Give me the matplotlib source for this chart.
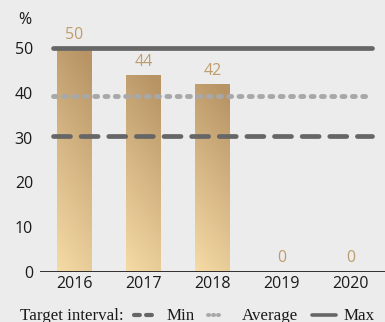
import numpy as np
import matplotlib
matplotlib.use("Agg")
import matplotlib.pyplot as plt
from matplotlib.lines import Line2D
from matplotlib.colors import to_rgb

years = ["2016", "2017", "2018", "2019", "2020"]
values = [50, 44, 42, 0, 0]
target_min = 30.4
target_avg = 39.3
target_max = 50
y_ticks = [0, 10, 20, 30, 40, 50]

BG = "#ececec"
TAN = "#bf9d6c"
DARK = "#666666"
LIGHT = "#a8a8a8"
SANS = ["Open Sans", "DejaVu Sans"]
SERIF = ["Liberation Serif", "DejaVu Serif"]

W, H = 385, 322
fig = plt.figure(figsize=(W / 100, H / 100), dpi=100, facecolor=BG)
ax = fig.add_axes([40 / W, (H - 271.7) / H, 345.5 / W, 245.7 / H], facecolor=BG)

x = np.arange(len(years))
bar_w = 0.5

# diagonal gradient: light at bottom-left, darker tan at top-right
c_top = np.array(to_rgb("#b89465"))
c_bot = np.array(to_rgb("#f5dba6"))
ny, nx = 100, 20
gy = np.linspace(0, 1, ny)[:, None]
gx = np.linspace(0, 1, nx)[None, :]
t = np.clip(0.85 * gy + 0.2 * gx, 0, 1)
grad = c_bot[None, None, :] * (1 - t[..., None]) + c_top[None, None, :] * t[..., None]

for xi, v in zip(x, values):
    if v > 0:
        ax.imshow(grad, origin="lower", aspect="auto", interpolation="bilinear",
                  extent=[xi - bar_w / 2, xi + bar_w / 2, 0, v], zorder=1)
    ax.text(xi, v + 1.2, f"{v}", ha="center", va="bottom", color=TAN,
            fontsize=11.5, family=SANS, zorder=4)

# target interval lines
lx = [-0.305, 4.305]
ax.plot(lx, [target_max] * 2, color=DARK, lw=3.4, solid_capstyle="round", zorder=3)
ax.plot(lx, [target_avg] * 2, color=LIGHT, lw=3.5, dash_capstyle="round",
        dashes=(0.6, 1.52), zorder=3)
ax.plot(lx, [target_min] * 2, color=DARK, lw=3.4, dash_capstyle="round",
        dashes=(3.6, 2.25), zorder=3)

ax.axhline(0, color="#222222", lw=1.3, zorder=5)

ax.set_xlim(-0.5, 4.5)
ax.set_ylim(0, 55)
ax.set_xticks(x)
ax.set_xticklabels(years)
ax.set_yticks(y_ticks)
for s in ax.spines.values():
    s.set_visible(False)
ax.tick_params(axis="both", length=0, labelsize=11.5, colors="#1a1a1a")
ax.tick_params(axis="y", pad=5)
ax.tick_params(axis="x", pad=3)
for lab in ax.get_xticklabels() + ax.get_yticklabels():
    lab.set_family(SANS)

fig.text(25 / W, 1 - 20.5 / H, "%", ha="center", va="center", fontsize=11.5,
         family=SANS, color="#1a1a1a")

# legend row along the bottom edge
ly = 1 - 315 / H
tb = 1 - 319.5 / H
fig.text(20 / W, tb, "Target interval:", ha="left", va="baseline", fontsize=12.2,
         family=SERIF, color="#1a1a1a")
items = [
    (134, 152, dict(color=DARK, lw=3.0, dashes=(1.4, 1.5), dash_capstyle="round"), 167, "Min"),
    (208, 219, dict(color=LIGHT, lw=2.8, dashes=(0.3, 0.98), dash_capstyle="round"), 242, "Average"),
    (311.5, 335.5, dict(color=DARK, lw=2.6, solid_capstyle="round"), 344, "Max"),
]
for x0, x1, kw, tx, label in items:
    fig.add_artist(Line2D([x0 / W, x1 / W], [ly, ly], transform=fig.transFigure, **kw))
    fig.text(tx / W, tb, label, ha="left", va="baseline", fontsize=12.2,
             family=SERIF, color="#1a1a1a")

fig.savefig("out.png", dpi=100, facecolor=BG)
